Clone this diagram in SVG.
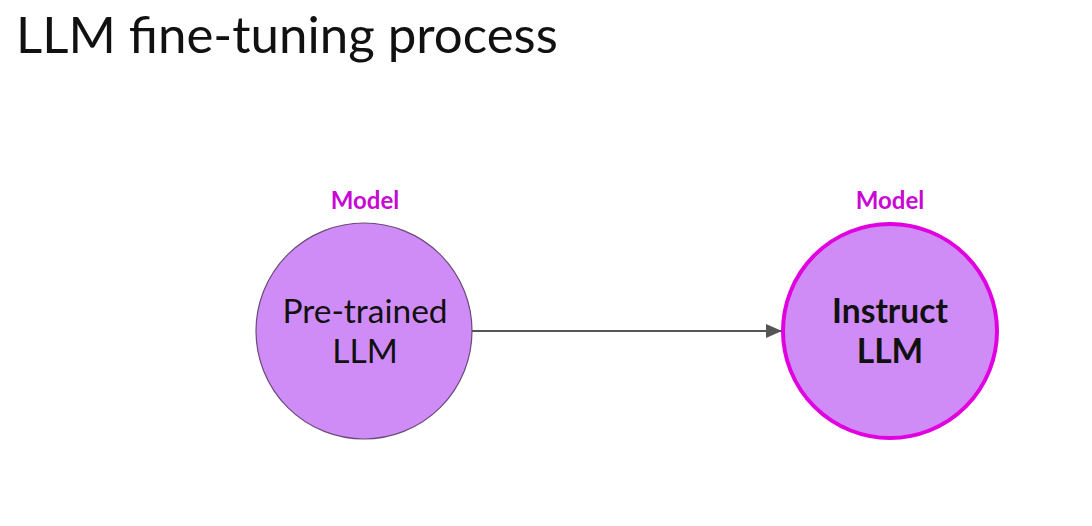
<svg xmlns="http://www.w3.org/2000/svg" width="1092" height="526" viewBox="0 0 1092 526">
<style>
.title{font-family:Lato,"Liberation Sans",sans-serif;font-size:51px;fill:#111}
.lbl{font-family:Lato,"Liberation Sans",sans-serif;font-size:24px;font-weight:bold;fill:#c808d4;text-anchor:middle}
.node{fill:#d08cf6}
.txt{font-family:Lato,"Liberation Sans",sans-serif;font-size:33.5px;fill:#111;text-anchor:middle}
</style>
<defs>
<marker id="ah" markerWidth="16" markerHeight="14" refX="15" refY="7" orient="auto" markerUnits="userSpaceOnUse">
<path d="M0,0 L16,7 L0,14 z" fill="#555"/>
</marker>
</defs>
<rect width="1092" height="526" fill="#fff"/>
<text class="title" x="16" y="53">LLM fine-tuning process</text>
<g id="connectors">
<line x1="472" y1="331" x2="781" y2="331" stroke="#555" stroke-width="2" marker-end="url(#ah)"/>
</g>
<g id="pretrained">
<text class="lbl" x="365" y="209">Model</text>
<circle class="node" cx="364" cy="331" r="108" stroke="#6a4a78" stroke-width="1.2"/>
<text class="txt" x="365" y="323">Pre-trained</text>
<text class="txt" x="365" y="363">LLM</text>
</g>
<g id="instruct">
<text class="lbl" x="890" y="209">Model</text>
<circle class="node" cx="890" cy="331" r="107" stroke="#e000e0" stroke-width="4"/>
<text class="txt" x="890" y="323" font-weight="bold">Instruct</text>
<text class="txt" x="890" y="363" font-weight="bold">LLM</text>
</g>
</svg>
